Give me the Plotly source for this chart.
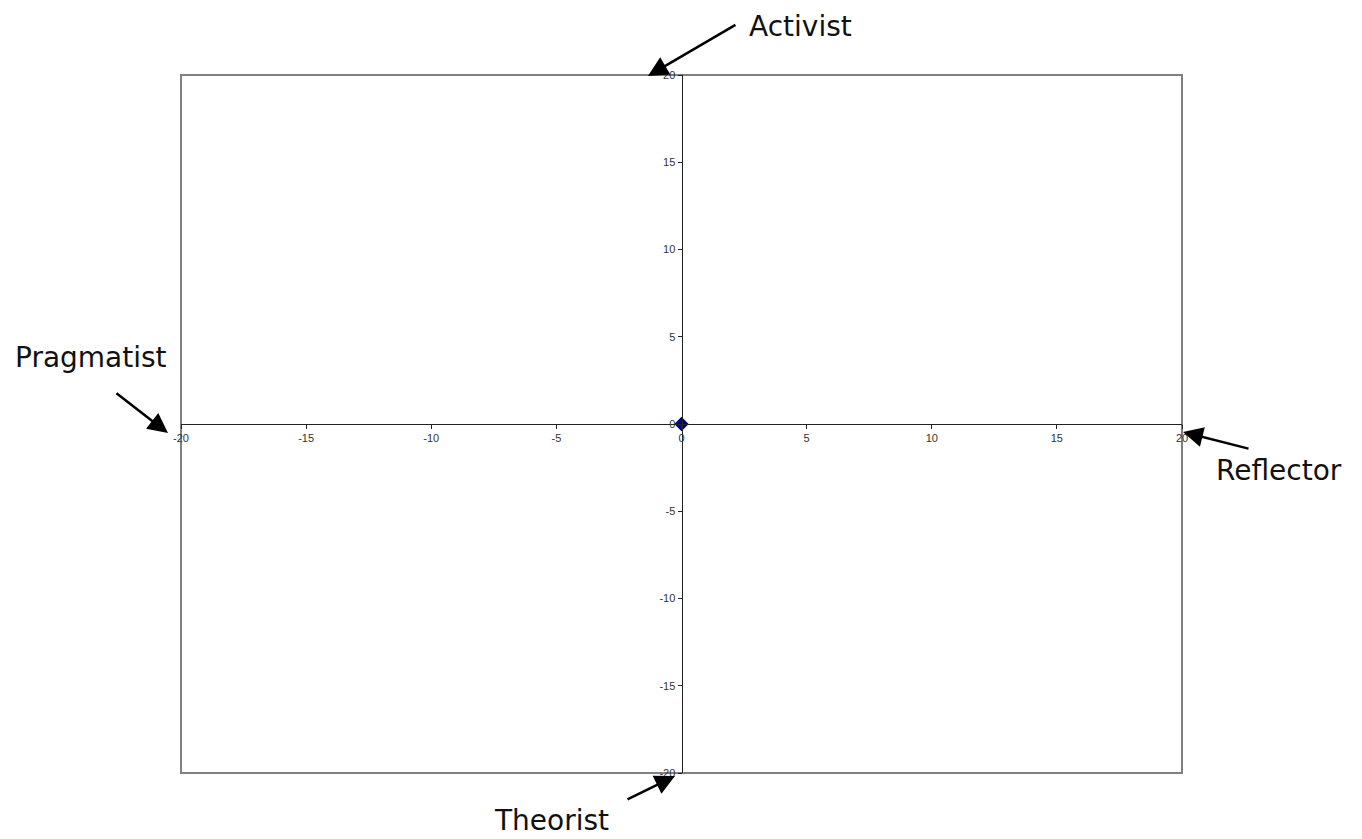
import plotly.graph_objects as go

# the single plotted point
px_vals = [0]
py_vals = [0]

tick_vals = [-20, -15, -10, -5, 0, 5, 10, 15, 20]
tick_text = ["-20", "-15", "-10", "-5", "0", "5", "10", "15", "20"]

# learning style labels: text position and arrow target (paper units)
labels = ["Activist", "Pragmatist", "Reflector", "Theorist"]
label_x = [0.619, -0.090, 1.097, 0.370]
label_y = [1.070, 0.595, 0.434, -0.068]
arrow_x = [0.4665, -0.013, 1.001, 0.4935]
arrow_y = [0.9986, 0.487, 0.4885, -0.0043]
arrow_ax = [89, -53, 67, -49]
arrow_ay = [-52, -41, 17, 24]

fig = go.Figure()
fig.add_trace(go.Scatter(x=px_vals, y=py_vals, mode="markers",
                         marker=dict(symbol="diamond", size=11, color="#000080"),
                         showlegend=False, cliponaxis=False))

axis_common = dict(
    range=[-20, 20], tickvals=tick_vals, ticktext=tick_text,
    showgrid=False, zeroline=False,
    showline=True, linecolor="#222222", linewidth=1,
    ticks="outside", ticklen=4, tickcolor="#222222",
    tickfont=dict(family="Liberation Sans, Arial", size=11, color="#333333"),
    anchor="free", position=0.5, fixedrange=True,
)
fig.update_xaxes(**axis_common)
fig.update_yaxes(**axis_common)

# outer gray frame
fig.add_shape(type="rect", xref="paper", yref="paper", x0=0, y0=0, x1=1, y1=1,
              line=dict(color="#808080", width=2), layer="below")

for i, name in enumerate(labels):
    fig.add_annotation(xref="paper", yref="paper", x=label_x[i], y=label_y[i],
                       xanchor="center", yanchor="middle", borderpad=0,
                       text=name, showarrow=False,
                       font=dict(family="DejaVu Sans", size=28, color="#111111"))
    fig.add_annotation(xref="paper", yref="paper", x=arrow_x[i], y=arrow_y[i],
                       text="", showarrow=True,
                       ax=arrow_ax[i], ay=arrow_ay[i], arrowhead=2,
                       arrowsize=1.6, arrowwidth=2.5, arrowcolor="black")

fig.update_layout(
    width=1362, height=839,
    margin=dict(l=173, r=188, t=67, b=74),
    paper_bgcolor="white", plot_bgcolor="white",
)

fig.write_html("out.html")
